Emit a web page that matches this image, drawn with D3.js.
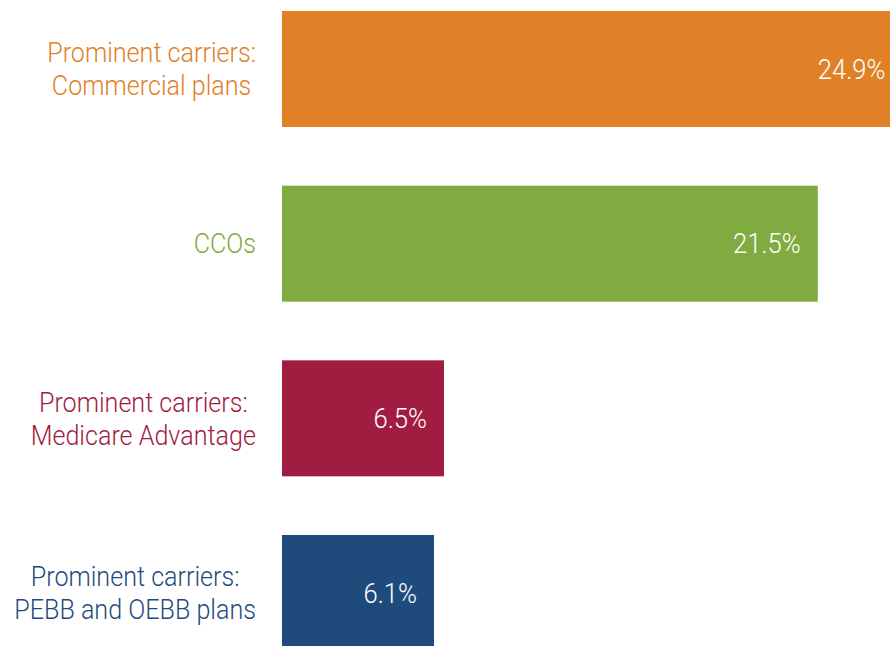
<!DOCTYPE html>
<html>
<head>
<meta charset="utf-8">
<script src="https://cdn.jsdelivr.net/npm/d3@7"></script>
<style>
  html, body { margin: 0; padding: 0; background: #fff; }
  svg { display: block; }
  .label, .value { font-family: "Liberation Sans Narrow", "Roboto", "Liberation Sans", sans-serif; font-weight: 300; }
</style>
</head>
<body>
<div id="chart"></div>
<script>
// Chart data
let categories = ["commercial", "cco", "medicare", "pebb"];
let labelLines = [
    ["Prominent carriers:", "Commercial plans"],
    ["CCOs"],
    ["Prominent carriers:", "Medicare Advantage"],
    ["Prominent carriers:", "PEBB and OEBB plans"]
];
let values = [24.9, 21.5, 6.5, 6.1];
let colors = ["#E08128", "#80AB41", "#A01C40", "#1F4B7C"];

let width = 890;
let height = 646;

let svg = d3.select("#chart").append("svg")
    .attr("width", width)
    .attr("height", height);

// scales
let x = d3.scaleLinear()
    .domain([0, 25])
    .range([282, 905]);

let y = d3.scaleBand()
    .domain(categories)
    .range([11, 651])
    .paddingInner(0.336)
    .paddingOuter(0);

let rows = categories.map(function (c, i) {
    return { id: c, lines: labelLines[i], value: values[i], color: colors[i] };
});

// bars
svg.append("g")
    .selectAll("rect")
    .data(rows)
    .enter()
    .append("rect")
    .attr("x", x(0))
    .attr("y", function (d) { return y(d.id); })
    .attr("width", function (d) { return x(d.value) - x(0); })
    .attr("height", y.bandwidth())
    .attr("fill", function (d) { return d.color; });

// condense the text a bit, the original uses a narrow face
let squeezeLabel = 0.93;
let squeezeValue = 0.95;
let labelRight = 256;

// category labels: lines centred on each other, block right edge at labelRight
let labels = svg.append("g")
    .selectAll("text")
    .data(rows)
    .enter()
    .append("text")
    .attr("class", "label")
    .attr("text-anchor", "middle")
    .attr("font-size", 27)
    .attr("fill", function (d) { return d.color; });

labels.selectAll("tspan")
    .data(function (d) { return d.lines; })
    .enter()
    .append("tspan")
    .attr("x", 0)
    .attr("y", function (l, i, nodes) {
        let n = nodes.length;
        return (i - (n - 1) / 2) * 33;
    })
    .attr("dy", "0.36em")
    .text(function (l) { return l; });

labels.attr("transform", function (d) {
    let widest = d3.max(d3.select(this).selectAll("tspan").nodes(), function (t) {
        return t.getComputedTextLength();
    }) * squeezeLabel;
    let cy = y(d.id) + y.bandwidth() / 2;
    return "translate(" + (labelRight - widest / 2) + "," + cy + ") scale(" + squeezeLabel + ",1)";
});

// value labels inside the bars
svg.append("g")
    .selectAll("text")
    .data(rows)
    .enter()
    .append("text")
    .attr("class", "value")
    .attr("text-anchor", "end")
    .attr("font-size", 27)
    .attr("fill", "#fff")
    .attr("transform", function (d) {
        let cy = y(d.id) + y.bandwidth() / 2;
        return "translate(" + (x(d.value) - 17) + "," + cy + ") scale(" + squeezeValue + ",1)";
    })
    .attr("dy", "0.36em")
    .text(function (d) { return d.value.toFixed(1) + "%"; });
</script>
</body>
</html>
